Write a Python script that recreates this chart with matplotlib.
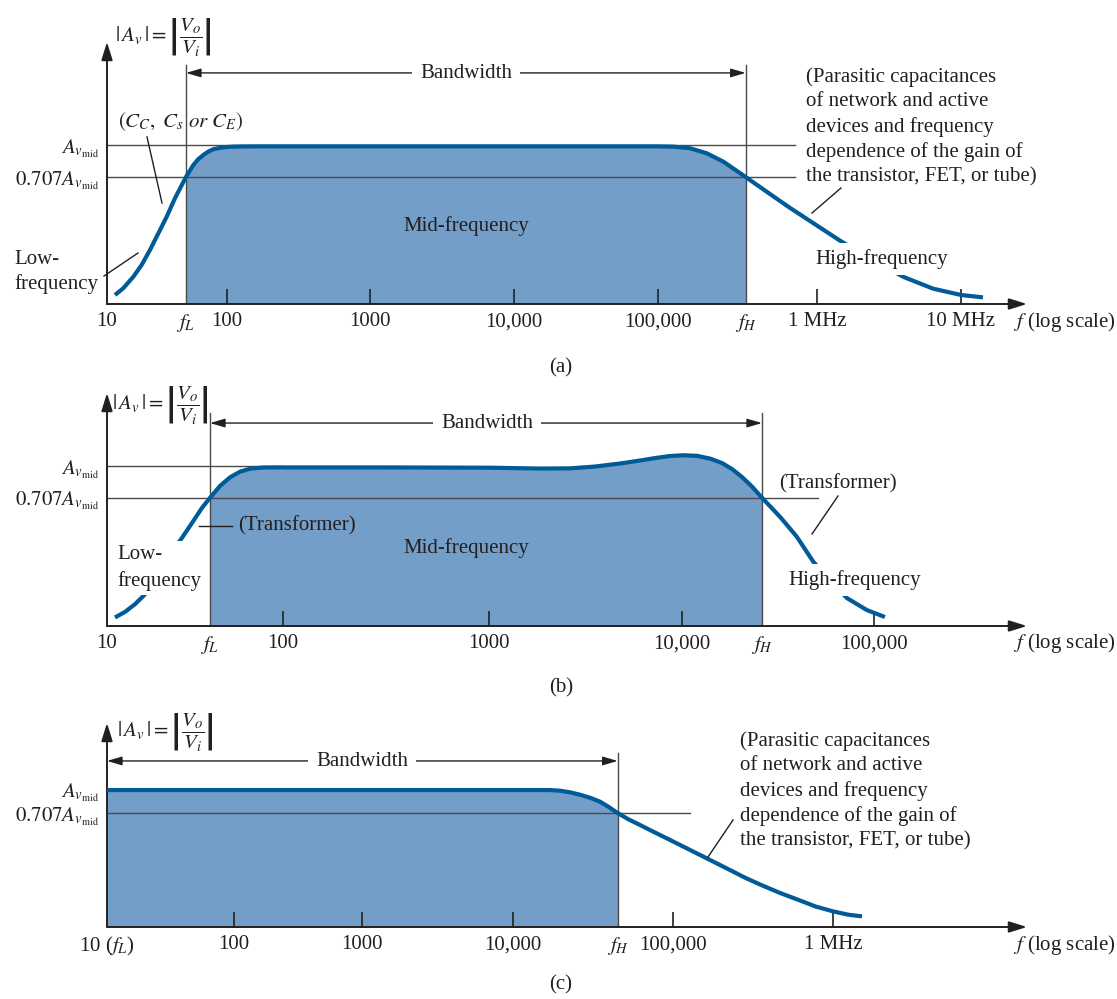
import numpy as np
import matplotlib
matplotlib.use("Agg")
import matplotlib.pyplot as plt
from matplotlib.lines import Line2D
from matplotlib.ticker import NullLocator

# ---------------- data (frequency in Hz, gain normalised to A_v,mid) ----------------
freq_a = [11.66, 13.67, 16.57, 19.46, 22.82, 26.77, 31.44, 36.87, 45.5, 52.4, 57.3, 63.5,
          69.4, 76.9, 87.4, 99.4, 110, 123, 170, 1000, 10000, 100000, 124300, 159000,
          202500, 257500, 356000, 506000, 676000, 943000, 1444000, 2410000, 4020000,
          6400000, 10000000, 14200000]
gain_a = [0.197, 0.212, 0.240, 0.273, 0.321, 0.384, 0.460, 0.562, 0.707, 0.805, 0.855,
          0.897, 0.929, 0.955, 0.970, 0.978, 0.982, 0.984, 0.985, 0.985, 0.985, 0.985,
          0.982, 0.965, 0.914, 0.835, 0.707, 0.588, 0.506, 0.430, 0.355, 0.288, 0.239,
          0.211, 0.197, 0.192]
f_low_a, f_high_a = 45.5, 356000
ticks_a = [1e2, 1e3, 1e4, 1e5, 1e6, 1e7]
ticklabels_a = ["100", "1000", "10,000", "100,000", "1 MHz", "10 MHz"]

freq_b = [11.1, 12.66, 14.43, 16.29, 19.49, 23.31, 26.57, 30.29, 34.52, 38.48, 43.85, 50.0,
          57.0, 64.9, 77.3, 96.2, 316, 1000, 1838, 2628, 3541, 4774, 6059, 7247, 8666,
          10120, 11970, 13990, 16160, 18210, 20540, 23150, 26100, 32400, 39600, 48300,
          59000, 72300, 91900, 114000]
gain_b = [0.191, 0.203, 0.221, 0.244, 0.307, 0.392, 0.454, 0.534, 0.630, 0.707, 0.804,
          0.884, 0.940, 0.971, 0.984, 0.985, 0.985, 0.982, 0.973, 0.975, 0.9945, 1.028,
          1.062, 1.091, 1.116, 1.125, 1.118, 1.085, 1.033, 0.968, 0.887, 0.799, 0.707,
          0.574, 0.462, 0.351, 0.288, 0.236, 0.207, 0.192]
f_low_b, f_high_b = 38.48, 26100
ticks_b = [1e2, 1e3, 1e4, 1e5]
ticklabels_b = ["100", "1000", "10,000", "100,000"]

freq_c = [10, 100, 1000, 10000, 17030, 19670, 22700, 26230, 30290, 34980, 39400, 45100,
          52600, 62200, 75300, 91300, 121800, 170300, 238200, 281800, 349900, 466500,
          622000, 783000, 1000000, 1241000, 1518000]
gain_c = [0.985, 0.985, 0.985, 0.985, 0.985, 0.976, 0.954, 0.921, 0.882, 0.833, 0.775,
          0.707, 0.646, 0.595, 0.540, 0.491, 0.425, 0.359, 0.303, 0.278, 0.252, 0.223,
          0.200, 0.183, 0.171, 0.163, 0.159]
f_low_c, f_high_c = 10, 45100
ticks_c = [1e2, 1e3, 1e4, 1e5, 1e6]
ticklabels_c = ["100", "1000", "10,000", "100,000", "1 MHz"]

level_values = [0.707, 1.0]
level_labels = [r"$0.707A_{v_{\mathrm{mid}}}$", r"$A_{v_{\mathrm{mid}}}$"]

# ---------------- style ----------------
plt.rcParams["font.family"] = "serif"
plt.rcParams["font.serif"] = ["Liberation Serif", "DejaVu Serif"]
plt.rcParams["mathtext.fontset"] = "stix"

W, H = 1117, 999
FS = 15
INK = "#231f20"
GUIDE = "#4a4a4a"
FILL = "#739ec8"
CURVE = "#005b98"

fig = plt.figure(figsize=(W / 100, H / 100), dpi=100)


def fx(x):
    return x / W


def fy(y):
    return 1 - y / H


def drawing_log_scale(decades):
    """The textbook's log axis has slightly uneven decades: map log10(f) piecewise."""
    logs = np.array([d for d, _ in decades], float)
    pos = np.array([p for _, p in decades], float)

    def fwd(f):
        f = np.asarray(f, float)
        return np.interp(np.log10(np.clip(f, 1e-12, None)), logs, pos)

    def inv(p):
        return 10 ** np.interp(np.asarray(p, float), pos, logs)

    return fwd, inv


def label(x, y, s, ha="left", va="center", pad=None, size=FS, **kw):
    t = fig.text(fx(x), fy(y), s, ha=ha, va=va, fontsize=size, color=INK, **kw)
    if pad is not None:
        t.set_bbox(dict(boxstyle=f"square,pad={pad}", fc="white", ec="none"))
    return t


def leader(x1, y1, x2, y2):
    fig.add_artist(Line2D([fx(x1), fx(x2)], [fy(y1), fy(y2)],
                          transform=fig.transFigure, color=INK, lw=1.0))


def panel(box, decades, ylim, freq, gain, fL, fH, ticks, ticklabels,
          minor_ticks, minor_labels, amid_frac, cut_frac, mark_top, bw_y):
    left, base, right, top = box
    ax = fig.add_axes([fx(left), fy(base), (right - left) / W, (base - top) / H])
    fwd, inv = drawing_log_scale(decades)
    ax.set_xscale("function", functions=(fwd, inv))
    ax.set_yscale("log")
    ax.set_xlim(10, float(inv(right)))
    ax.set_ylim(*ylim)
    for s in ax.spines.values():
        s.set_visible(False)
    ax.patch.set_alpha(0)

    f = np.asarray(freq, float)
    g = np.asarray(gain, float)
    m = (f >= fL) & (f <= fH)
    ax.fill_between(f[m], ylim[0], g[m], color=FILL, lw=0, zorder=1)

    if amid_frac > 0:
        ax.axhline(level_values[1], 0, amid_frac, color=GUIDE, lw=1.0, zorder=2)
    ax.axhline(level_values[0], 0, cut_frac, color=GUIDE, lw=1.0, zorder=2)
    for fv in (fL, fH):
        if fv > 10:
            ax.axvline(fv, 0, mark_top, color=GUIDE, lw=1.0, zorder=2.2)

    ax.plot(f, g, color=CURVE, lw=3.0, zorder=4, solid_capstyle="butt",
            solid_joinstyle="round", clip_on=False)

    tr = ax.get_xaxis_transform()
    ax.annotate("", xy=(fH, bw_y), xytext=(fL, bw_y), xycoords=tr, textcoords=tr,
                arrowprops=dict(arrowstyle="<|-|>,head_length=0.75,head_width=0.22",
                                mutation_scale=12, lw=1.0, color=INK,
                                shrinkA=0, shrinkB=0))

    arrow = dict(arrowstyle="-|>,head_length=0.9,head_width=0.28", mutation_scale=12,
                 lw=1.4, color=INK, shrinkA=0, shrinkB=0)
    ax.annotate("", xy=(1, 0), xytext=(0, 0), xycoords="axes fraction",
                arrowprops=arrow, annotation_clip=False)
    ax.annotate("", xy=(0, 1), xytext=(0, 0), xycoords="axes fraction",
                arrowprops=arrow, annotation_clip=False)

    ax.set_xticks(ticks, ticklabels)
    ax.set_xticks(minor_ticks, minor_labels, minor=True)
    ax.tick_params(axis="x", which="major", direction="in", length=10.5, width=1.2,
                   color=INK, pad=6, labelsize=FS, labelcolor=INK)
    ax.tick_params(axis="x", which="minor", length=0, pad=6, labelsize=FS,
                   labelcolor=INK)
    ax.set_yticks(level_values, level_labels)
    ax.yaxis.set_minor_locator(NullLocator())
    ax.tick_params(axis="y", which="both", length=0, pad=6, labelsize=FS,
                   labelcolor=INK)
    return ax


YLABEL = r"$|\,A_v\,| = \left|\dfrac{V_o}{V_i}\right|$"
PARASITIC = ("(Parasitic capacitances\nof network and active\ndevices and frequency\n"
             "dependence of the gain of\nthe transistor, FET, or tube)")

# ---------------- (a) ----------------
panel((107, 304, 1027, 42),
      [(1, 107), (2, 227), (3, 370), (4, 514), (5, 658), (6, 817), (7, 961), (8, 1105)],
      (0.1787, 3.05), freq_a, gain_a, f_low_a, f_high_a, ticks_a, ticklabels_a,
      [10, f_low_a, f_high_a], ["10", "$f_L$", "$f_H$"],
      0.748, 0.748, 0.912, 0.882)
label(115, 37, YLABEL)
label(466, 73, "Bandwidth", ha="center", pad=0.38)
label(118, 122, r"$(C_C,\ C_s\ or\ C_E)$")
leader(147, 137, 162, 203)
label(14, 272, "Low-\nfrequency", linespacing=1.36)
leader(104, 276, 138, 253)
label(466, 226, "Mid-frequency", ha="center")
label(806, 127, PARASITIC, linespacing=1.37)
leader(841, 188, 812, 213)
label(815, 259, "High-frequency", pad=0.3)
label(1013, 322, r"$f$ (log scale)")
label(561, 368, "(a)", ha="center")

# ---------------- (b) ----------------
panel((107, 626, 1027, 393),
      [(1, 107), (2, 283), (3, 489), (4, 682), (5, 874), (6, 1066)],
      (0.174, 2.222), freq_b, gain_b, f_low_b, f_high_b, ticks_b, ticklabels_b,
      [10, f_low_b, f_high_b], ["10", "$f_L$", "$f_H$"],
      0.191, 0.773, 0.914, 0.871)
label(112, 405, YLABEL)
label(487, 423, "Bandwidth", ha="center", pad=0.38)
label(238, 526, "(Transformer)")
leader(199, 526, 232, 526)
label(117, 568, "Low-\nfrequency", linespacing=1.46, pad=0.2)
label(466, 548, "Mid-frequency", ha="center")
label(779, 484, "(Transformer)")
leader(838, 496, 812, 534)
label(788, 580, "High-frequency", pad=0.3)
label(1013, 643, r"$f$ (log scale)")
label(561, 688, "(b)", ha="center")

# ---------------- (c) ----------------
panel((107, 927, 1027, 723),
      [(1, 107), (2, 234), (3, 362), (4, 513), (5, 673), (6, 833), (7, 993), (8, 1153)],
      (0.1364, 2.594), freq_c, gain_c, f_low_c, f_high_c, ticks_c, ticklabels_c,
      [10, f_high_c], [r"10 ($f_L$)", "$f_H$"],
      0, 0.634, 0.853, 0.814)
label(117, 732, YLABEL)
label(362, 761, "Bandwidth", ha="center", pad=0.38)
label(740, 791, PARASITIC, linespacing=1.37)
leader(733, 820, 708, 857)
label(1013, 945, r"$f$ (log scale)")
label(561, 985, "(c)", ha="center")

fig.savefig("out.png", dpi=100)
